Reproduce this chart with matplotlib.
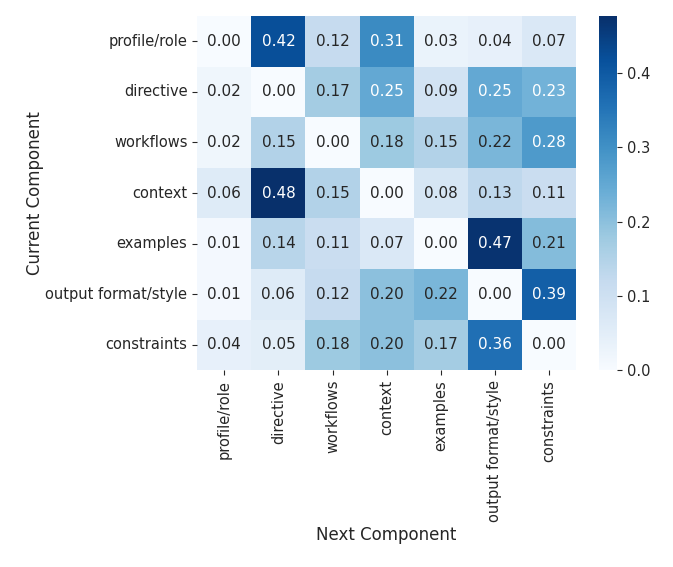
import matplotlib
matplotlib.use("Agg")
import matplotlib.pyplot as plt
import seaborn as sns
import numpy as np

components = ["profile/role", "directive", "workflows", "context", "examples",
              "output format/style", "constraints"]
row_profile = [0.00, 0.42, 0.12, 0.31, 0.03, 0.04, 0.07]
row_directive = [0.02, 0.00, 0.17, 0.25, 0.09, 0.25, 0.23]
row_workflows = [0.02, 0.15, 0.00, 0.18, 0.15, 0.22, 0.28]
row_context = [0.06, 0.477, 0.15, 0.00, 0.08, 0.13, 0.11]
row_examples = [0.01, 0.14, 0.11, 0.07, 0.00, 0.47, 0.21]
row_output = [0.01, 0.06, 0.12, 0.20, 0.22, 0.00, 0.39]
row_constraints = [0.04, 0.05, 0.18, 0.20, 0.17, 0.36, 0.00]

data = np.array([row_profile, row_directive, row_workflows, row_context,
                 row_examples, row_output, row_constraints])

dark = "#262626"
fig = plt.figure(figsize=(6.73, 5.67), dpi=100)
ax = fig.add_axes([0.293, 0.347, 0.563, 0.625])
cax = fig.add_axes([0.890, 0.347, 0.027, 0.625])

sns.heatmap(data, ax=ax, cbar_ax=cax, cmap="Blues", annot=True, fmt=".2f",
            xticklabels=components, yticklabels=components,
            annot_kws={"fontsize": 11})

# text colour per cell as in the reference
for t in ax.texts:
    v = float(t.get_text())
    t.set_color("white" if v >= 0.225 else dark)

ax.set_xlabel("Next Component", fontsize=12, labelpad=3, color=dark)
ax.set_ylabel("Current Component", fontsize=12, labelpad=1, color=dark)
ax.tick_params(axis="both", labelsize=10.5, colors=dark)
plt.setp(ax.get_xticklabels(), rotation=90)
plt.setp(ax.get_yticklabels(), rotation=0)
cax.tick_params(labelsize=10.5, colors=dark)

fig.savefig("out.png", dpi=100)
